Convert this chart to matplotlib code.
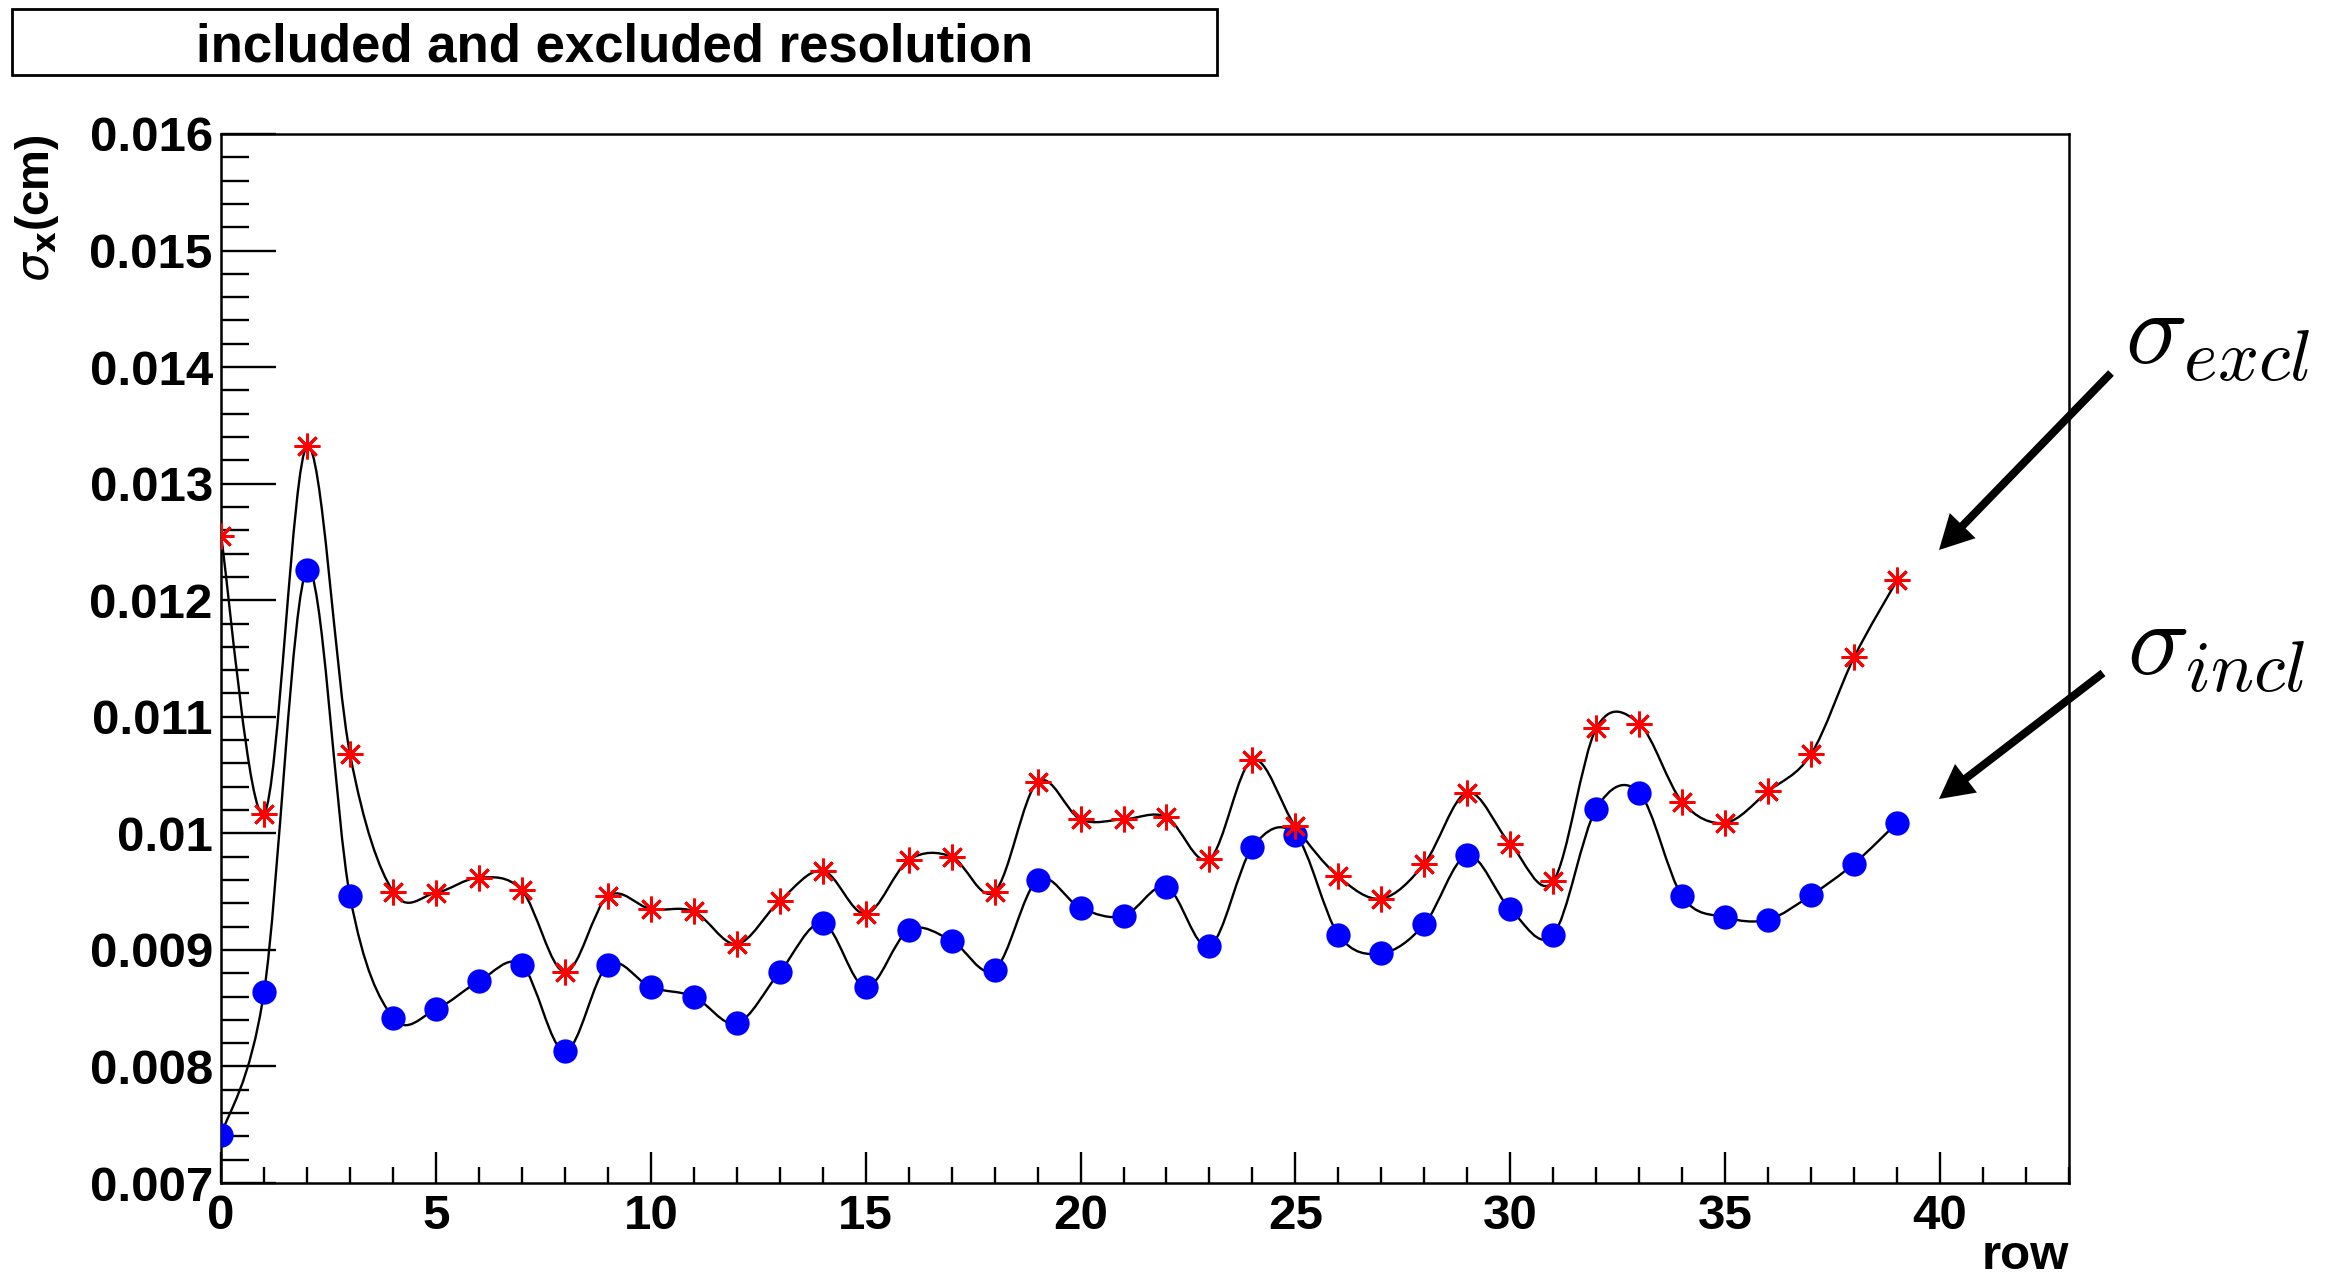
import matplotlib
matplotlib.use('Agg')
import matplotlib.pyplot as plt
import numpy as np
from matplotlib.path import Path
from matplotlib.patches import PathPatch, Rectangle, FancyArrow
from matplotlib.ticker import MultipleLocator, FuncFormatter
from matplotlib.transforms import IdentityTransform

plt.rcParams['font.family'] = ['Liberation Sans', 'DejaVu Sans']

rows = np.arange(40)
sigma_incl = [0.00741, 0.00864, 0.01226, 0.00946, 0.00842, 0.00849, 0.00873, 0.00887,
              0.00813, 0.00887, 0.00868, 0.00860, 0.00837, 0.00881, 0.00923, 0.00868,
              0.00917, 0.00908, 0.00883, 0.00960, 0.00936, 0.00929, 0.00954, 0.00903,
              0.00988, 0.00999, 0.00913, 0.00897, 0.00922, 0.00981, 0.00935, 0.00913,
              0.01021, 0.01035, 0.00946, 0.00928, 0.00926, 0.00947, 0.00974, 0.01009]
sigma_excl = [0.01255, 0.01017, 0.01332, 0.01068, 0.00950, 0.00949, 0.00962, 0.00951,
              0.00881, 0.00946, 0.00935, 0.00933, 0.00905, 0.00942, 0.00968, 0.00931,
              0.00977, 0.00980, 0.00950, 0.01044, 0.01012, 0.01012, 0.01014, 0.00978,
              0.01063, 0.01006, 0.00963, 0.00944, 0.00974, 0.01035, 0.00991, 0.00959,
              0.01090, 0.01094, 0.01027, 0.01009, 0.01036, 0.01068, 0.01151, 0.01217]


def smooth_path(x, y):
    # Catmull-Rom segments written as cubic Bezier pieces
    x = np.asarray(x, float)
    y = np.asarray(y, float)
    px = np.concatenate([[x[0]], x, [x[-1]]])
    py = np.concatenate([[y[0]], y, [y[-1]]])
    verts = [(x[0], y[0])]
    codes = [Path.MOVETO]
    for i in range(1, len(px) - 2):
        c1 = (px[i] + (px[i + 1] - px[i - 1]) / 6, py[i] + (py[i + 1] - py[i - 1]) / 6)
        c2 = (px[i + 1] - (px[i + 2] - px[i]) / 6, py[i + 1] - (py[i + 2] - py[i]) / 6)
        verts += [c1, c2, (px[i + 1], py[i + 1])]
        codes += [Path.CURVE4] * 3
    return Path(verts, codes)


fig = plt.figure(figsize=(23.42, 12.82), dpi=100)
ax = fig.add_axes([0.0944, 0.0772, 0.7890, 0.8183])

for ys in (sigma_incl, sigma_excl):
    ax.add_patch(PathPatch(smooth_path(rows, ys), fill=False, lw=1.7, color='k', zorder=2))

ax.plot(rows, sigma_incl, 'o', ls='none', color='#0000ff', ms=17.5, mew=0, zorder=3)
ax.plot(rows, sigma_excl, marker=(8, 2, 0), ls='none', color='#ff0000', ms=18.5, mew=2.0, zorder=3)

ax.set_xlim(0, 43)
ax.set_ylim(0.007, 0.016)

ax.xaxis.set_major_locator(MultipleLocator(5))
ax.xaxis.set_minor_locator(MultipleLocator(1))
ax.yaxis.set_major_locator(MultipleLocator(0.001))
ax.yaxis.set_minor_locator(MultipleLocator(0.0002))
ax.yaxis.set_major_formatter(FuncFormatter(lambda v, p: '%g' % round(v, 4)))

ax.tick_params(which='both', direction='in', top=False, right=False, width=1.7)
ax.tick_params(axis='y', which='major', length=39.6, pad=6)
ax.tick_params(axis='y', which='minor', length=19.8)
ax.tick_params(axis='x', which='major', length=22.3, pad=8)
ax.tick_params(axis='x', which='minor', length=11.2)
for lab in ax.get_xticklabels() + ax.get_yticklabels():
    lab.set_fontsize(35.5)
    lab.set_fontweight('bold')
for s in ax.spines.values():
    s.set_linewidth(1.8)

# axis titles
fig.text(0.8834, 0.002, 'row', ha='right', va='bottom', fontsize=35.5, fontweight='bold')
fig.text(0.0158, 0.8955, r'$\sigma_{\mathbf{x}}$(cm)', rotation=90, ha='center', va='top',
         fontsize=33, fontweight='bold', math_fontfamily='dejavusans')

# title box
fig.add_artist(Rectangle((0.0051, 0.9415), 0.5146, 0.0515, transform=fig.transFigure,
                         fill=False, lw=2, ec='k'))
fig.text(0.2625, 0.963, 'included and excluded resolution', ha='center', va='center',
         fontsize=38, fontweight='bold')

# labels with arrows (figure pixels)
H = 1282
arrows = [((2111, H - 373), (1939, H - 550)), ((2103, H - 673), (1939, H - 799))]
for (tx, ty), (hx, hy) in arrows:
    fig.add_artist(FancyArrow(tx, ty, hx - tx, hy - ty, width=8, head_width=36,
                              head_length=34, length_includes_head=True, color='k', lw=0,
                              transform=IdentityTransform()))
fig.text(2125 / 2342, 1 - 364 / H, r'$\sigma_{excl}$', ha='left', va='baseline',
         fontsize=74, math_fontfamily='cm')
fig.text(2127 / 2342, 1 - 675 / H, r'$\sigma_{incl}$', ha='left', va='baseline',
         fontsize=74, math_fontfamily='cm')

fig.savefig('out.png', dpi=100)
